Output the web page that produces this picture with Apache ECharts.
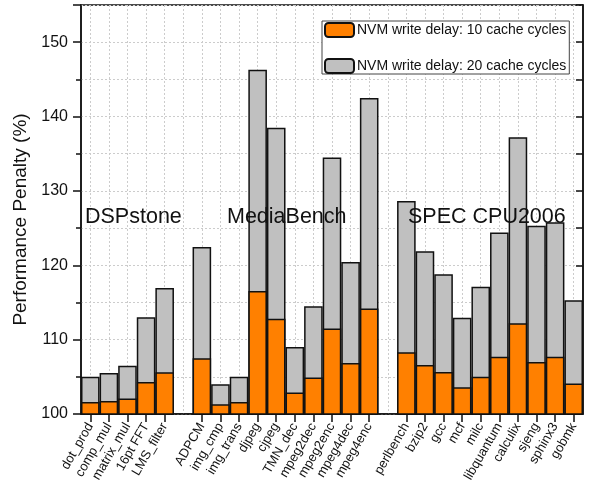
<!DOCTYPE html>
<html><head><meta charset="utf-8">
<script src="https://cdn.jsdelivr.net/npm/echarts@6/dist/echarts.min.js"></script>
<style>html,body{margin:0;padding:0;background:#fff}#c{width:590px;height:493px}</style>
</head><body><div id="c"></div>
<script>
const categories = ["dot_prod","comp_mul","matrix_mul","16pt FFT","LMS_filter","",
  "ADPCM","img_cmp","img_trans","djpeg","cjpeg","TMN_dec","mpeg2dec","mpeg2enc","mpeg4dec","mpeg4enc","",
  "perlbench","bzip2","gcc","mcf","milc","libquantum","calculix","sjeng","sphinx3","gobmk"];
const delay10 = [101.6,101.75,102.1,104.3,105.6,null,
  107.5,101.3,101.6,116.55,112.8,102.9,104.9,111.5,106.85,114.2,null,
  108.3,106.6,105.65,103.6,105.0,107.7,112.2,107.0,107.7,104.1];
const delay20 = [105.0,105.5,106.5,113.0,116.95,null,
  122.45,104.0,105.0,146.3,138.5,109.0,114.5,134.5,120.45,142.5,null,
  128.65,121.9,118.8,112.95,117.1,124.4,137.2,125.3,125.8,115.3];
const seriesNames = ["NVM write delay: 10 cache cycles","NVM write delay: 20 cache cycles"];
const groupLabels = ["DSPstone","MediaBench","SPEC CPU2006"];

const FONT = "Liberation Sans";
const N = categories.length;
const slot = (590 - 81 - 7) / N;
const chart = echarts.init(document.getElementById('c'), null, {renderer:'canvas'});
chart.setOption({
  animation:false,
  textStyle:{fontFamily:FONT},
  grid:[
    {left:81,right:7,top:5,bottom:79,show:true,borderColor:'#111',borderWidth:1.5,backgroundColor:'transparent'},
    {left:81+slot/2,right:7+slot/2,top:5,bottom:79}
  ],
  legend:{
    orient:'vertical', left:322, top:21,
    data:[seriesNames[0],seriesNames[1]],
    itemWidth:29, itemHeight:14, itemGap:20,
    padding:[1,3,0,2],
    backgroundColor:'#fff', borderColor:'#444', borderWidth:1,
    textStyle:{fontFamily:FONT,fontSize:14,lineHeight:14,color:'#111',padding:[0,0,0,-2]}
  },
  xAxis:[{
    type:'category', data:categories, boundaryGap:true, gridIndex:0,
    axisLine:{show:true,lineStyle:{color:'#111',width:1.5}},
    axisTick:{show:true,alignWithLabel:true,inside:false,length:8,
      interval:function(i,v){return v!=='';},lineStyle:{color:'#111',width:1.5}},
    axisLabel:{rotate:60,interval:0,fontSize:13,color:'#111',margin:10,fontFamily:FONT},
    splitLine:{show:false}
  },{
    type:'value', gridIndex:1, min:0, max:N-1, interval:1,
    axisLine:{show:false}, axisTick:{show:false}, axisLabel:{show:false},
    splitLine:{show:true,lineStyle:{color:'#ccc',type:[2,2],width:1}}
  }],
  yAxis:[{
    type:'value', min:100, max:155, interval:10, gridIndex:0,
    name:'Performance Penalty (%)', nameLocation:'middle', nameGap:47,
    nameTextStyle:{fontSize:19,color:'#111',fontFamily:FONT,padding:[0,20,0,0]},
    axisLine:{show:true,lineStyle:{color:'#111',width:1.5}},
    axisTick:{show:true,length:8,lineStyle:{color:'#111',width:1.5}},
    minorTick:{show:true,splitNumber:2,length:5,lineStyle:{color:'#111',width:1.5}},
    axisLabel:{fontSize:16,color:'#111',margin:13,fontFamily:FONT,showMaxLabel:false},
    splitLine:{show:true,lineStyle:{color:'#ccc',type:[2,2],width:1}},
    minorSplitLine:{show:true,lineStyle:{color:'#ccc',type:[2,2],width:1}}
  },{
    type:'value', min:100, max:155, interval:10, position:'right', gridIndex:0,
    axisLine:{show:true,lineStyle:{color:'#111',width:1.5}},
    axisTick:{show:true,inside:true,length:7,lineStyle:{color:'#111',width:1.5}},
    minorTick:{show:true,splitNumber:2,length:7,lineStyle:{color:'#111',width:1.5}},
    axisLabel:{show:false},
    splitLine:{show:false}
  },{
    type:'value', gridIndex:1, min:0, max:1, show:false, splitLine:{show:false}
  }],
  series:[{
    name:seriesNames[1], type:'bar', data:delay20, barWidth:'100%', barGap:'-100%',
    xAxisIndex:0, yAxisIndex:0,
    itemStyle:{color:'#c0c0c0',borderColor:'#111',borderWidth:1.5}, z:2
  },{
    name:seriesNames[0], type:'bar', data:delay10, barWidth:'100%', barGap:'-100%',
    xAxisIndex:0, yAxisIndex:0,
    itemStyle:{color:'#ff8000',borderColor:'#111',borderWidth:1.5}, z:3
  }],
  graphic:[
    {type:'text',left:85,top:206,z:100,style:{text:groupLabels[0],font:'21.5px "Liberation Sans"',fill:'#111'}},
    {type:'text',left:227,top:206,z:100,style:{text:groupLabels[1],font:'21.5px "Liberation Sans"',fill:'#111'}},
    {type:'text',left:408,top:206,z:100,style:{text:groupLabels[2],font:'21.5px "Liberation Sans"',fill:'#111'}}
  ]
});
</script></body></html>
